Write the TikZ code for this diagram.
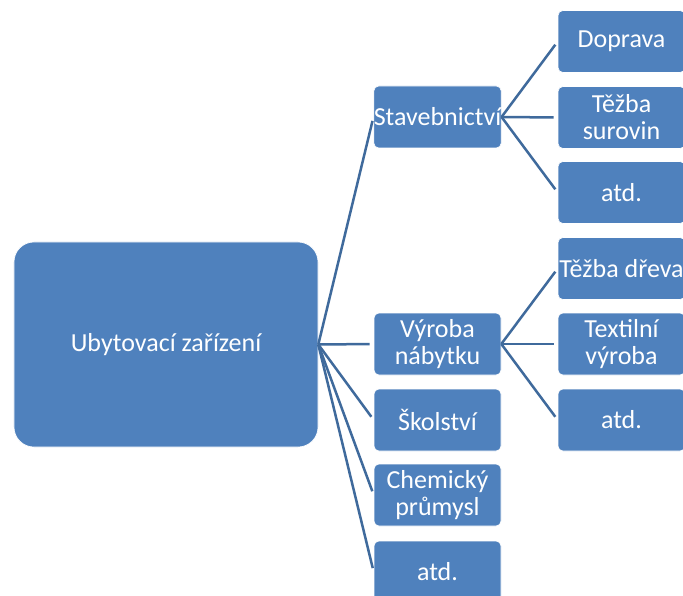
\documentclass[tikz,border=0pt]{standalone}
\usepackage{fontspec}
\setmainfont{Carlito}
\definecolor{boxblue}{HTML}{4F81BD}
\definecolor{lineblue}{HTML}{3F6A9C}
\begin{document}
\begin{tikzpicture}[x=1bp,y=-1bp,
  box/.style={fill=boxblue,draw=white,line width=0.6bp,rounded corners=5bp,
    minimum width=127bp,minimum height=62bp,inner sep=0pt,align=center,
    text=white,font=\fontsize{26bp}{27bp}\selectfont},
  rootbox/.style={box,rounded corners=20bp,minimum width=304bp,minimum height=205bp},
  conn/.style={draw=lineblue,line width=2.5bp,shorten >=4bp}]
\clip (0,0) rectangle (683,596);
\fill[white] (0,0) rectangle (683,596);
\node[rootbox] (root) at (166,344.5) {Ubytovací zařízení};
\node[box] (stav) at (437.5,117) {Stavebnictví};
\node[box] (vyr) at (437.5,344) {Výroba\\nábytku};
\node[box] (skol) at (437.5,420) {Školství};
\node[box] (chem) at (437.5,495) {Chemický\\průmysl};
\node[box] (atd1) at (437.5,572) {atd.};
\node[box] (dop) at (621.5,41.5) {Doprava};
\node[box] (tez) at (621.5,117.5) {Těžba\\surovin};
\node[box] (atd2) at (621.5,192.5) {atd.};
\node[box] (drev) at (621.5,268.5) {Těžba dřeva};
\node[box] (text) at (621.5,344) {Textilní\\výroba};
\node[box] (atd3) at (621.5,420) {atd.};
\foreach \c in {stav,vyr,skol,chem,atd1} \draw[conn] (root.east) -- (\c.west);
\foreach \c in {dop,tez,atd2} \draw[conn] (stav.east) -- (\c.west);
\foreach \c in {drev,text,atd3} \draw[conn] (vyr.east) -- (\c.west);
\end{tikzpicture}
\end{document}
